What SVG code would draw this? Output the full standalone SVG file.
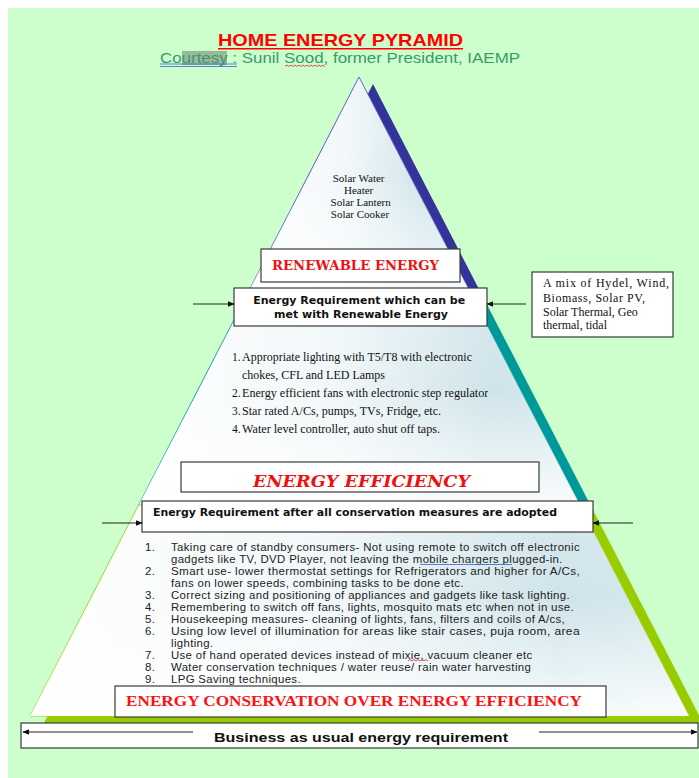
<svg xmlns="http://www.w3.org/2000/svg" width="699" height="778" viewBox="0 0 699 778">
<defs>
<style>
.box{fill:#fff;stroke:#3a3a3a;stroke-width:1.2}
.ser{font-family:"Liberation Serif","Times New Roman",serif;fill:#111}
.san{font-family:"Liberation Sans",Arial,sans-serif;fill:#222}
.ls{letter-spacing:0.35px}
.bold{font-family:"DejaVu Sans",Verdana,sans-serif;font-weight:bold;fill:#111}
.conn{stroke:#222;stroke-width:1.2;fill:none}
</style>
<marker id="ah" viewBox="0 0 10 10" refX="9" refY="5" markerWidth="7" markerHeight="7" orient="auto-start-reverse" markerUnits="userSpaceOnUse">
<path d="M0,1 L10,5 L0,9 Z" fill="#111"/>
</marker>
<linearGradient id="gh" x1="0" y1="0" x2="1" y2="0">
<stop offset="0" stop-color="#ffffff"/>
<stop offset="0.45" stop-color="#f1f7f9"/>
<stop offset="0.8" stop-color="#cfe4ea"/>
<stop offset="1" stop-color="#d6e9ee"/>
</linearGradient>
<linearGradient id="gv" x1="0" y1="0" x2="0" y2="1">
<stop offset="0" stop-color="#ffffff" stop-opacity="0.15"/>
<stop offset="0.45" stop-color="#ffffff" stop-opacity="0"/>
<stop offset="1" stop-color="#ffffff" stop-opacity="0.85"/>
</linearGradient>
<clipPath id="c1"><rect x="220" y="340" width="268" height="100"/></clipPath>
</defs>
<rect x="0" y="0" width="699" height="778" fill="#ffffff"/>
<rect x="8" y="8" width="691" height="770" fill="#ccffcc"/>

<g id="title">
<text x="340.5" y="46" text-anchor="middle" font-family="Liberation Sans,Arial,sans-serif" font-weight="bold" font-size="17" fill="#ff0000" textLength="245" lengthAdjust="spacingAndGlyphs">HOME ENERGY PYRAMID</text>
<line x1="218" y1="48.8" x2="463" y2="48.8" stroke="#ff0000" stroke-width="1.6"/>
</g>
<g id="subtitle">
<rect x="182" y="51" width="45" height="14" fill="#9ab89a"/>
<text x="160" y="62.5" font-family="Liberation Sans,Arial,sans-serif" font-size="14" fill="#3a9a6a" textLength="360" lengthAdjust="spacingAndGlyphs">Courtesy : Sunil Sood, former President, IAEMP</text>
<line x1="160" y1="64" x2="237" y2="64" stroke="#3366cc" stroke-width="0.8"/>
<line x1="160" y1="66.5" x2="237" y2="66.5" stroke="#3366cc" stroke-width="0.8"/>
<path d="M285,66.5 l2,-1.5 l2,1.5 l2,-1.5 l2,1.5 l2,-1.5 l2,1.5 l2,-1.5 l2,1.5 l2,-1.5 l2,1.5 l2,-1.5 l2,1.5 l2,-1.5 l2,1.5 l2,-1.5 l2,1.5 l2,-1.5 l2,1.5 l2,-1.5 l2,1.5" fill="none" stroke="#dd2222" stroke-width="0.8"/>
</g>

<g id="pyramid">
<polygon points="373,84 488.2,307 258.2,307" fill="#333399"/>
<polygon points="258.2,307 488.2,307 594,512 152.6,512" fill="#009999"/>
<polygon points="152.6,512 594,512 703,723 44,723" fill="#99cc00"/>
<g id="level-top">
<polygon points="359,77 474.2,300 244.2,300" fill="url(#gh)" stroke="#5a5ac0" stroke-width="1"/>
<polygon points="359,77 474.2,300 244.2,300" fill="url(#gv)"/>
</g>
<g id="level-middle">
<polygon points="244.2,300 474.2,300 580,505 138.6,505" fill="url(#gh)" stroke="#1aa5a5" stroke-width="1"/>
<polygon points="244.2,300 474.2,300 580,505 138.6,505" fill="url(#gv)"/>
</g>
<g id="level-bottom">
<polygon points="138.6,505 580,505 689,716 30,716" fill="url(#gh)" stroke="#a6d41a" stroke-width="1"/>
<polygon points="138.6,505 580,505 689,716 30,716" fill="url(#gv)"/>
</g>
</g>

<g id="solar-list">
<text class="ser" font-size="11" text-anchor="middle">
<tspan x="360" y="182">Solar Water</tspan>
<tspan x="360" y="194">Heater</tspan>
<tspan x="362" y="206">Solar Lantern</tspan>
<tspan x="360" y="218">Solar Cooker</tspan>
</text>
</g>

<g id="renewable-energy">
<rect class="box" x="261" y="249" width="199" height="33"/>
<text x="355.5" y="269.5" text-anchor="middle" font-family="DejaVu Serif,serif" font-weight="bold" font-size="13" fill="#ee1111" textLength="167" lengthAdjust="spacingAndGlyphs">RENEWABLE ENERGY</text>
</g>

<g id="renewable-requirement">
<rect class="box" x="234" y="288" width="253" height="38"/>
<text class="bold" font-size="10.5" text-anchor="middle">
<tspan x="361" y="304" textLength="212" lengthAdjust="spacingAndGlyphs">Energy Requirement which can be</tspan>
<tspan x="361" y="317.5" textLength="174" lengthAdjust="spacingAndGlyphs">met with Renewable Energy</tspan>
</text>
</g>

<g id="mix-box">
<rect class="box" x="532" y="272" width="141" height="65"/>
<text class="ser" font-size="12">
<tspan x="543" y="287" textLength="126" lengthAdjust="spacing">A mix of Hydel, Wind,</tspan>
<tspan x="543" y="302" textLength="102" lengthAdjust="spacing">Biomass,  Solar PV,</tspan>
<tspan x="543" y="316">Solar Thermal, Geo</tspan>
<tspan x="543" y="329">thermal, tidal</tspan>
</text>
</g>

<g id="efficiency-list" clip-path="url(#c1)">
<text class="ser" font-size="11.5">
<tspan x="232" y="361">1.</tspan><tspan x="242" y="361" textLength="230" lengthAdjust="spacingAndGlyphs">Appropriate lighting with T5/T8 with electronic</tspan>
<tspan x="242" y="379" textLength="143" lengthAdjust="spacingAndGlyphs">chokes, CFL and LED Lamps</tspan>
<tspan x="232" y="397">2.</tspan><tspan x="242" y="397" textLength="251" lengthAdjust="spacingAndGlyphs">Energy efficient fans with electronic step regulators</tspan>
<tspan x="232" y="415">3.</tspan><tspan x="242" y="415" textLength="199" lengthAdjust="spacingAndGlyphs">Star rated A/Cs, pumps, TVs, Fridge, etc.</tspan>
<tspan x="232" y="433">4.</tspan><tspan x="242" y="433" textLength="198" lengthAdjust="spacingAndGlyphs">Water level controller, auto shut off taps.</tspan>
</text>
</g>

<g id="energy-efficiency">
<rect class="box" x="181" y="462" width="358" height="30"/>
<text x="361.5" y="487" text-anchor="middle" font-family="DejaVu Serif,serif" font-weight="bold" font-style="italic" font-size="17" fill="#ee1111" textLength="217" lengthAdjust="spacingAndGlyphs">ENERGY EFFICIENCY</text>
</g>

<g id="conservation-requirement">
<rect class="box" x="142" y="501" width="451" height="31"/>
<text class="bold" x="153" y="516" font-size="10.5" textLength="404" lengthAdjust="spacingAndGlyphs">Energy Requirement after all conservation measures are adopted</text>
</g>

<g id="conservation-list">
<text class="san ls" font-size="11.4">
<tspan x="145" y="550.5">1.</tspan><tspan x="171" y="550.5" textLength="409" lengthAdjust="spacingAndGlyphs">Taking care of standby consumers- Not using remote to switch off electronic</tspan>
<tspan x="171" y="562.5">gadgets like TV, DVD Player, not leaving the mobile  chargers plugged-in.</tspan>
<tspan x="145" y="574.5">2.</tspan><tspan x="171" y="574.5" textLength="409" lengthAdjust="spacingAndGlyphs">Smart use- lower thermostat settings for Refrigerators and higher for A/Cs,</tspan>
<tspan x="171" y="586.5">fans on lower speeds, combining tasks to be done etc.</tspan>
<tspan x="145" y="598.5">3.</tspan><tspan x="171" y="598.5">Correct sizing and positioning of appliances and gadgets like task lighting.</tspan>
<tspan x="145" y="610.5">4.</tspan><tspan x="171" y="610.5">Remembering to switch off fans, lights, mosquito mats etc when not in use.</tspan>
<tspan x="145" y="622.5">5.</tspan><tspan x="171" y="622.5">Housekeeping measures- cleaning of lights, fans, filters and coils of A/cs,</tspan>
<tspan x="145" y="634.5">6.</tspan><tspan x="171" y="634.5" textLength="409" lengthAdjust="spacingAndGlyphs">Using low level of illumination for areas like stair cases, puja room, area</tspan>
<tspan x="171" y="646.5">lighting.</tspan>
<tspan x="145" y="658.5">7.</tspan><tspan x="171" y="658.5">Use of hand operated devices instead of mixie, vacuum cleaner etc</tspan>
<tspan x="145" y="670.5">8.</tspan><tspan x="171" y="670.5">Water conservation techniques / water reuse/ rain water harvesting</tspan>
<tspan x="145" y="682.5">9.</tspan><tspan x="171" y="682.5">LPG Saving techniques.</tspan>
</text>
<line x1="420" y1="564.5" x2="512" y2="564.5" stroke="#3366cc" stroke-width="0.8"/>
<path d="M408,661 l2,-1.5 l2,1.5 l2,-1.5 l2,1.5 l2,-1.5 l2,1.5 l2,-1.5 l2,1.5 l2,-1.5 l2,1.5" fill="none" stroke="#dd2222" stroke-width="0.8"/>
</g>

<g id="conservation-over-efficiency">
<rect class="box" x="115" y="686" width="491" height="31"/>
<text x="126" y="706" font-family="Liberation Serif,Times New Roman,serif" font-weight="bold" font-size="15" fill="#ff1111" textLength="456" lengthAdjust="spacingAndGlyphs">ENERGY CONSERVATION OVER ENERGY EFFICIENCY</text>
</g>

<g id="business-as-usual">
<rect class="box" x="21" y="723" width="677" height="25"/>
<text x="361" y="742" text-anchor="middle" font-family="Liberation Sans,Arial,sans-serif" font-weight="bold" font-size="13.5" fill="#111" textLength="294" lengthAdjust="spacingAndGlyphs">Business as usual energy requirement</text>
</g>

<g id="connectors">
<line class="conn" x1="193" y1="304" x2="234" y2="304" marker-end="url(#ah)"/>
<line class="conn" x1="526" y1="304" x2="487" y2="304" marker-end="url(#ah)"/>
<line class="conn" x1="102" y1="523" x2="142" y2="523" marker-end="url(#ah)"/>
<line class="conn" x1="633" y1="523" x2="593" y2="523" marker-end="url(#ah)"/>
<line class="conn" x1="193" y1="732" x2="23" y2="732" marker-end="url(#ah)"/>
<line class="conn" x1="539" y1="732" x2="697" y2="732" marker-end="url(#ah)"/>
</g>
</svg>
